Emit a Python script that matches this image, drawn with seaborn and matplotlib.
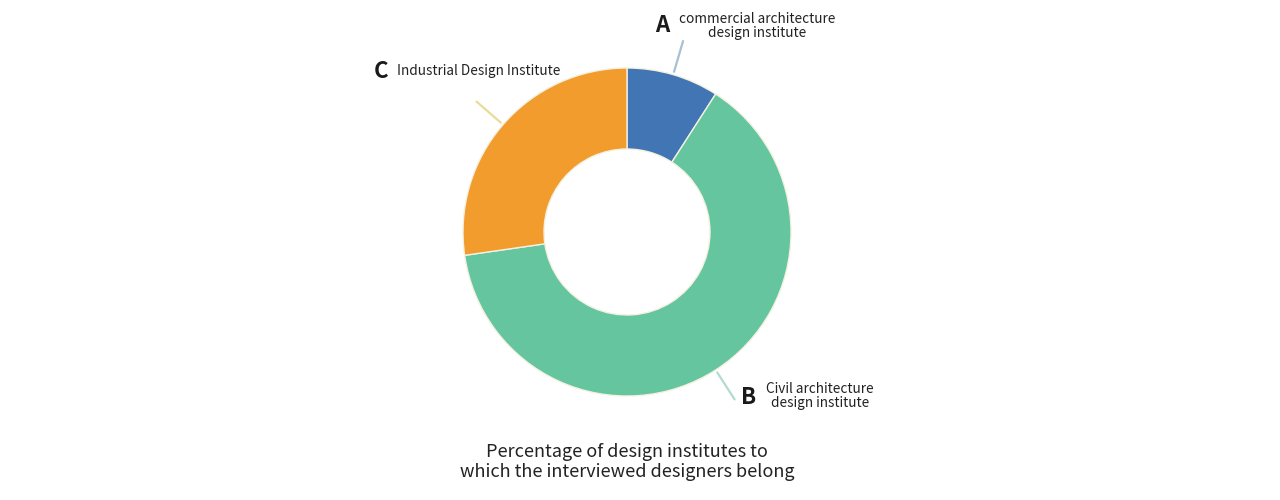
import numpy as np
import matplotlib
matplotlib.use("Agg")
import matplotlib.pyplot as plt
import seaborn as sns

# Data
letters = ["A", "B", "C"]
names = ["commercial architecture\ndesign institute",
         "Civil architecture\ndesign institute",
         "Industrial Design Institute"]
counts = [1, 7, 3]
colors = ["#4275b3", "#65c59f", "#f29c2d"]
line_colors = ["#a9bfd2", "#b2dccb", "#eadb96"]
title = "Percentage of design institutes to\nwhich the interviewed designers belong"

sns.set_theme(style="white")
plt.rcParams['font.family'] = ['Noto Sans CJK SC', 'DejaVu Sans']

W, H = 1280, 500
fig = plt.figure(figsize=(12.8, 5.0), dpi=100)
fig.patch.set_facecolor("white")
ax = fig.add_axes([0, 0, 1, 1])

cx, cy = 627, H - 232
R, r_in = 164, 83

ax.pie(counts, colors=colors, startangle=90, counterclock=False,
       radius=R, center=(cx, cy), frame=True,
       wedgeprops=dict(width=R - r_in, edgecolor="#f4f1e0", linewidth=1.0))

# leader lines at wedge mid-angles
vals = np.array(counts, dtype=float)
fr = vals / vals.sum()
starts = np.concatenate([[0], np.cumsum(fr)[:-1]])
mids = (starts + fr / 2) * 360.0  # clockwise degrees from top
for m, lc in zip(mids, line_colors):
    t = np.deg2rad(m)
    rr = np.array([167, 199])
    xs = cx + rr * np.sin(t)
    ys = cy + rr * np.cos(t)
    ax.plot(xs, ys, color=lc, lw=1.6, solid_capstyle="round")

# labels
ax.text(662, H - 26, letters[0], fontsize=16, fontweight="bold",
        ha="center", va="center", color="#1a1a1a")
ax.text(757, H - 26, names[0], fontsize=9.8, ha="center", va="center",
        color="#222222", linespacing=1.05)

ax.text(749, H - 398, letters[1], fontsize=16, fontweight="bold",
        ha="center", va="center", color="#1a1a1a")
ax.text(820, H - 396, names[1], fontsize=9.8, ha="center", va="center",
        color="#222222", linespacing=1.05)

ax.text(381, H - 71, letters[2], fontsize=16, fontweight="bold",
        ha="center", va="center", color="#1a1a1a")
ax.text(397, H - 71, names[2], fontsize=9.8, ha="left", va="center",
        color="#222222")

ax.text(627, H - 462, title, fontsize=13, ha="center", va="center",
        color="#222222", linespacing=1.1)

ax.set_xlim(0, W)
ax.set_ylim(0, H)
ax.set_aspect("equal")
ax.axis("off")

fig.savefig("out.png", dpi=100, facecolor="white")
